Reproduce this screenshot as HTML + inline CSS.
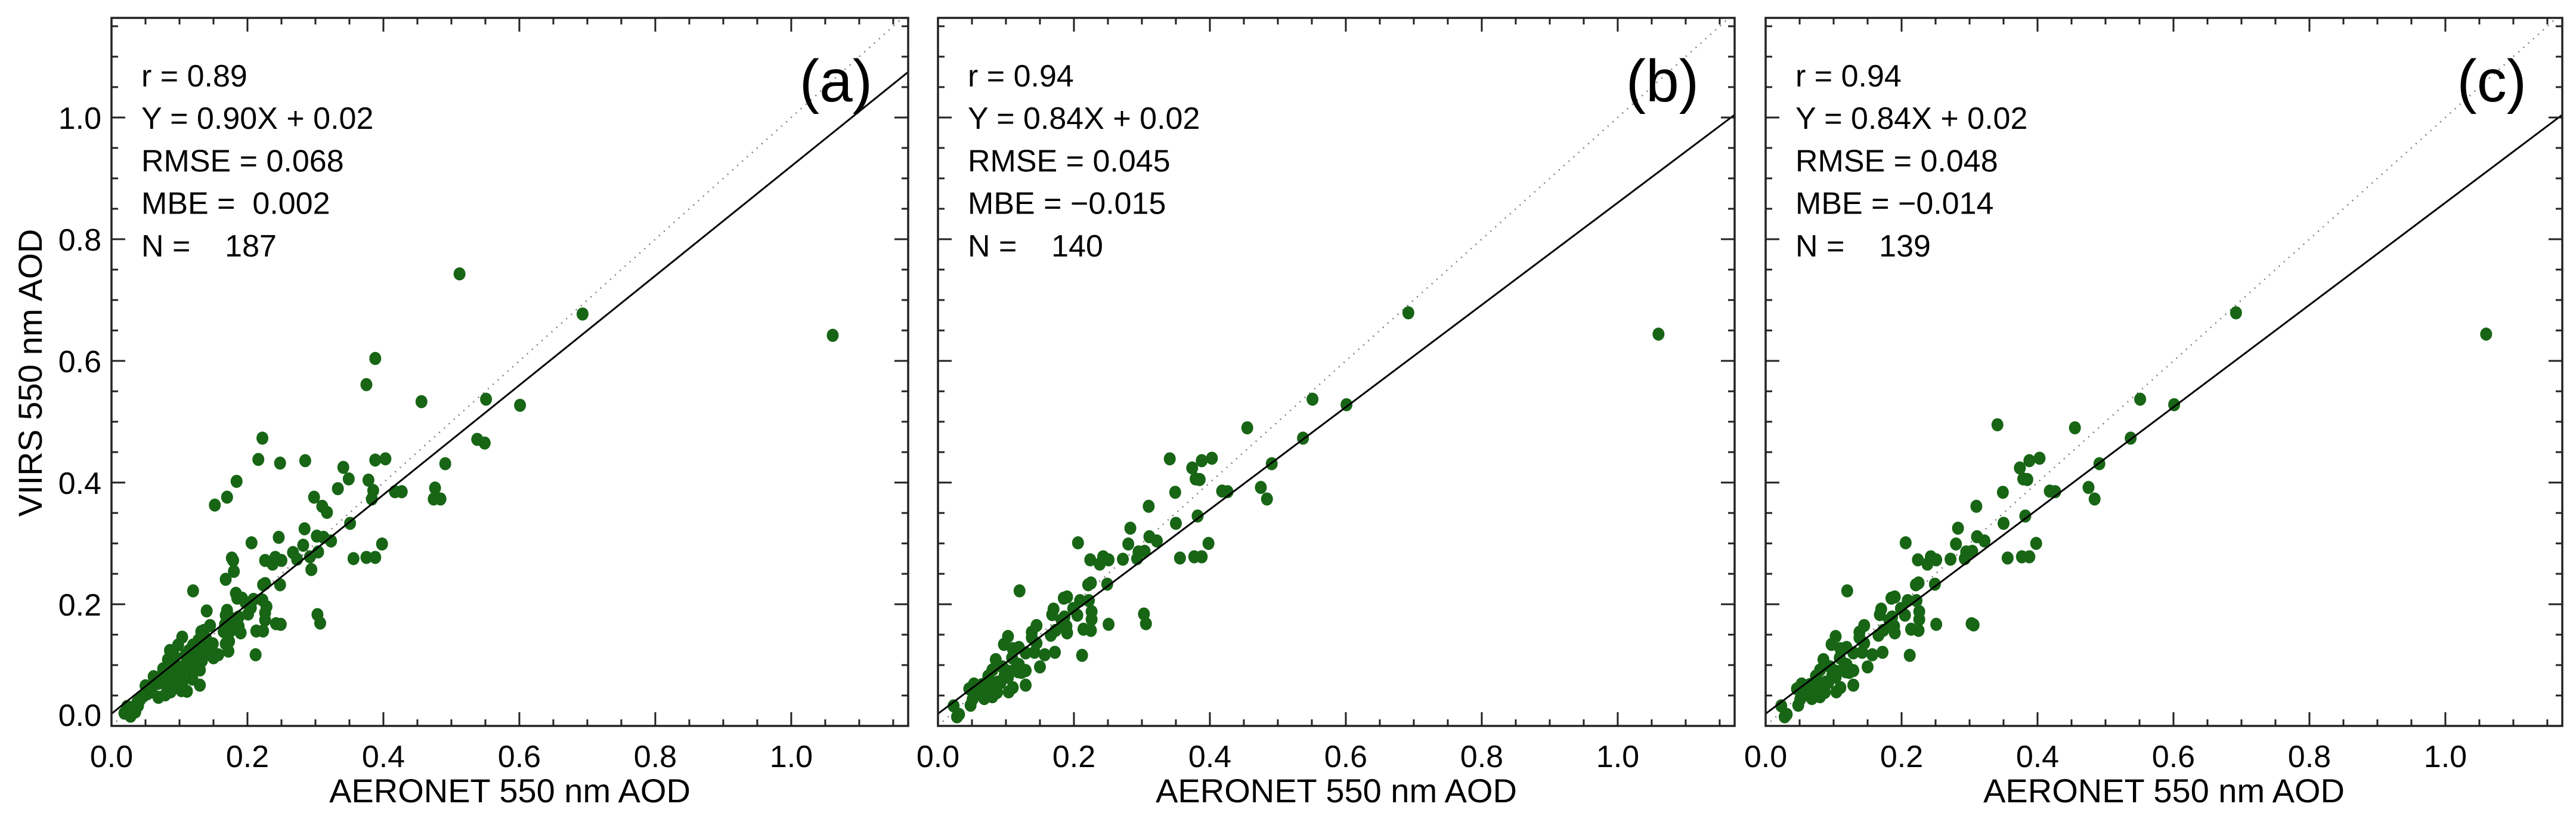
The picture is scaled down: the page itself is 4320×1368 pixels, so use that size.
<!DOCTYPE html>
<html><head><meta charset="utf-8">
<style>
html,body{margin:0;padding:0;background:#fff;}
svg{display:block;font-family:"Liberation Sans",Arial,sans-serif;}
</style></head>
<body>
<svg id="chart" width="4320" height="1368" viewBox="0 0 4320 1368" xmlns="http://www.w3.org/2000/svg"></svg>
<script>
// ---- data ----
const panelLabels = ["(a)", "(b)", "(c)"];
const statR = ["0.89", "0.94", "0.94"];
const statEq = ["Y = 0.90X + 0.02", "Y = 0.84X + 0.02", "Y = 0.84X + 0.02"];
const statRMSE = ["0.068", "0.045", "0.048"];
const statMBE = [" 0.002", "\u22120.015", "\u22120.014"];
const statN = ["187", "140", "139"];
const fitSlope = [0.90, 0.84, 0.84];
const fitIntercept = [0.02, 0.02, 0.02];
const xTickLabels = ["0.0", "0.2", "0.4", "0.6", "0.8", "1.0"];
const yTickLabels = ["0.0", "0.2", "0.4", "0.6", "0.8", "1.0"];

const aX = [.512,.693,1.061,.388,.375,.456,.551,.601,.538,.549,.491,.222,.216,.248,.285,.388,.403,.341,.349,.378,.385,.333,.417,.427,.476,.474,.484,.383,.184,.170,.152,.298,.310,.317,.351,.284,.246,.312,.302,.323,.206,.398,.282,.267,.304,.292,.273,.356,.375,.388,.241,.226,.250,.237,.177,.179,.180,.168,.294,.226,.223,.248,.120,.183,.185,.192,.197,.209,.222,.228,.205,.201,.226,.226,.303,.307,.242,.249,.140,.170,.168,.187,.179,.167,.187,.190,.213,.223,.145,.132,.136,.165,.175,.212,.128,.139,.149,.146,.104,.098,.120,.131,.114,.109,.086,.093,.168,.173,.172,.157,.150,.143,.124,.122,.130,.130,.103,.111,.083,.076,.088,.098,.109,.103,.088,.072,.062,.069,.080,.091,.087,.079,.069,.057,.050,.053,.047,.042,.039,.029,.023,.019,.028,.035,.038,.059,.096,.104,.118,.119,.113,.123,.133];
const aY = [.743,.677,.642,.604,.561,.533,.537,.527,.471,.465,.431,.473,.438,.432,.436,.437,.439,.425,.406,.404,.387,.390,.385,.385,.391,.373,.373,.373,.402,.376,.363,.376,.361,.351,.333,.324,.310,.310,.312,.304,.301,.299,.297,.285,.286,.278,.274,.275,.277,.277,.277,.272,.272,.266,.276,.272,.254,.241,.257,.234,.232,.232,.222,.218,.210,.210,.203,.208,.207,.196,.194,.184,.186,.174,.183,.169,.168,.167,.189,.190,.182,.179,.176,.167,.164,.153,.156,.156,.165,.155,.157,.155,.156,.117,.141,.144,.135,.131,.146,.133,.133,.128,.124,.117,.124,.114,.135,.139,.123,.117,.112,.120,.107,.095,.092,.067,.058,.057,.109,.094,.094,.097,.102,.086,.083,.081,.081,.070,.068,.075,.056,.051,.047,.064,.066,.053,.049,.043,.033,.030,.032,.021,.016,.023,.039,.056,.066,.071,.085,.077,.090,.116,.107];

const bX = [.692,1.060,.551,.601,.455,.537,.341,.388,.403,.374,.379,.385,.491,.475,.484,.418,.426,.349,.310,.382,.350,.283,.311,.322,.280,.398,.206,.295,.304,.293,.272,.356,.377,.388,.224,.243,.251,.238,.221,.225,.249,.120,.185,.190,.209,.222,.199,.205,.170,.168,.226,.226,.186,.182,.303,.306,.251,.214,.225,.145,.189,.190,.173,.166,.138,.138,.145,.103,.097,.110,.119,.129,.142,.157,.172,.212,.085,.109,.119,.095,.103,.150,.129,.118,.080,.074,.088,.103,.110,.129,.104,.087,.080,.068,.065,.053,.046,.062,.073,.051,.048,.023,.028,.031,.057,.068,.077,.092,.098,.116,.123];
const bY = [.679,.644,.537,.528,.490,.473,.439,.436,.440,.424,.406,.405,.431,.392,.373,.386,.385,.384,.361,.345,.333,.325,.311,.304,.299,.300,.301,.286,.287,.275,.274,.276,.278,.278,.273,.278,.273,.266,.232,.235,.233,.222,.210,.212,.206,.206,.193,.182,.192,.183,.188,.175,.179,.174,.184,.168,.167,.159,.157,.165,.164,.153,.157,.149,.154,.145,.136,.147,.134,.127,.129,.120,.121,.117,.121,.116,.109,.112,.101,.097,.090,.097,.091,.089,.092,.082,.072,.080,.063,.067,.056,.055,.048,.045,.068,.069,.061,.058,.068,.044,.034,.033,.015,.019,.056,.054,.059,.071,.083,.102,.088];

const cX = [.692,1.060,.551,.601,.455,.537,.341,.388,.403,.374,.379,.385,.491,.475,.484,.418,.426,.349,.310,.382,.350,.283,.311,.322,.280,.398,.206,.295,.304,.293,.272,.356,.377,.388,.224,.243,.251,.238,.221,.225,.249,.120,.185,.190,.209,.222,.199,.205,.170,.168,.226,.226,.186,.182,.303,.306,.251,.214,.225,.145,.189,.190,.173,.166,.138,.138,.145,.103,.097,.110,.119,.129,.142,.157,.172,.212,.085,.109,.119,.095,.103,.150,.129,.118,.080,.074,.088,.103,.110,.129,.104,.087,.080,.068,.065,.053,.046,.062,.073,.051,.048,.023,.028,.031,.057,.068,.077,.092,.098,.116,.123];
const cY = [.679,.644,.537,.528,.490,.473,.495,.436,.440,.424,.406,.405,.431,.392,.373,.386,.385,.384,.361,.345,.333,.325,.311,.304,.299,.300,.301,.286,.287,.275,.274,.276,.278,.278,.273,.278,.273,.266,.232,.235,.233,.222,.210,.212,.206,.206,.193,.182,.192,.183,.188,.175,.179,.174,.168,.166,.167,.159,.157,.165,.164,.153,.157,.149,.154,.145,.136,.147,.134,.127,.129,.120,.121,.117,.121,.116,.109,.112,.101,.097,.090,.097,.091,.089,.092,.082,.072,.080,.063,.067,.056,.055,.048,.045,.068,.069,.061,.058,.068,.044,.034,.033,.015,.019,.056,.054,.059,.071,.083,.102,.088];

const seriesX = [aX, bX, cX];
const seriesY = [aY, bY, cY];

// ---- layout ----
const NS = "http://www.w3.org/2000/svg";
const svg = document.getElementById("chart");
const panelLeft = [187, 1573, 2961];
const W = 1336, TOP = 30, BOTTOM = 1217;
const XMAX = 1.172, YMAX = (BOTTOM - TOP) / 1020;
function mk(tag, attrs, parent) {
  const e = document.createElementNS(NS, tag);
  for (const k in attrs) e.setAttribute(k, attrs[k]);
  (parent || svg).appendChild(e);
  return e;
}
const ids = ["a", "b", "c"];
for (let p = 0; p < 3; p++) {
  const L = panelLeft[p], R = L + W;
  const sx = v => L + v / XMAX * W;
  const sy = v => BOTTOM - v / YMAX * (BOTTOM - TOP);
  const g = mk("g", {});
  
  
  // clip
  const cp = mk("clipPath", {id: "clip" + p}, g);
  mk("rect", {x: L, y: TOP, width: W, height: BOTTOM - TOP}, cp);
  // 1:1 line
  const one = mk("line", {x1: sx(0), y1: sy(0), x2: sx(XMAX), y2: sy(XMAX), stroke: "#777", "stroke-width": 2.5, "stroke-dasharray": "2 9", "clip-path": "url(#clip" + p + ")"}, g);
  
  
  // points
  const pts = mk("g", {fill: "#176515"}, g);
  
  
  const xs = seriesX[p], ys = seriesY[p];
  for (let i = 0; i < xs.length; i++) {
    const c = mk("ellipse", {cx: sx(xs[i]), cy: sy(ys[i]), rx: 10, ry: 11}, pts);
    
    
  }
  // fit line
  const fit = mk("line", {x1: sx(0), y1: sy(fitIntercept[p]), x2: sx(XMAX), y2: sy(fitIntercept[p] + fitSlope[p] * XMAX), stroke: "#000", "stroke-width": 3, "clip-path": "url(#clip" + p + ")"}, g);
  
  
  // frame
  const fr = mk("rect", {x: L, y: TOP, width: W, height: BOTTOM - TOP, fill: "none", stroke: "#222", "stroke-width": 3.5}, g);
  
  
  // ticks
  let d = "";
  for (let k = 0; k * 0.05 <= XMAX + 1e-9; k++) {
    const x = sx(k * 0.05), len = (k % 4 === 0) ? 23 : 11;
    d += `M${x} ${BOTTOM}v${-len}M${x} ${TOP}v${len}`;
  }
  for (let k = 0; k * 0.05 <= YMAX + 1e-9; k++) {
    const y = sy(k * 0.05), len = (k % 4 === 0) ? 23 : 11;
    d += `M${L} ${y}h${len}M${R} ${y}h${-len}`;
  }
  const tk = mk("path", {d: d, stroke: "#222", "stroke-width": 3, fill: "none"}, g);
  
  
  // x tick labels
  for (let i = 0; i < xTickLabels.length; i++) {
    const t = mk("text", {x: sx(i * 0.2), y: 1286, "font-size": 52, "text-anchor": "middle"}, g);
    t.textContent = xTickLabels[i];
    
    
  }
  // y tick labels (left panel only)
  if (p === 0) {
    for (let i = 0; i < yTickLabels.length; i++) {
      const yy = sy(i * 0.2) + 19 - (i === 0 ? 19 : 0);
      const t = mk("text", {x: 170, y: yy, "font-size": 52, "text-anchor": "end"}, g);
      t.textContent = yTickLabels[i];
      
      
    }
    const yt = mk("text", {x: 0, y: 0, "font-size": 56, "text-anchor": "middle", transform: "translate(70 625) rotate(-90)"}, g);
    yt.textContent = "VIIRS 550 nm AOD";
    
    
  }
  const xt = mk("text", {x: L + W / 2, y: 1345, "font-size": 56, "text-anchor": "middle"}, g);
  xt.textContent = "AERONET 550 nm AOD";
  
  
  // stats
  const lines = ["r = " + statR[p], statEq[p], "RMSE = " + statRMSE[p], "MBE = " + statMBE[p], "N =    " + statN[p]];
  for (let i = 0; i < lines.length; i++) {
    const t = mk("text", {x: L + 50, y: 145 + i * 71.2, "font-size": 52, "xml:space": "preserve", style: "white-space:pre"}, g);
    t.textContent = lines[i];
    
    
  }
  const pl = mk("text", {x: L + 1276, y: 170, "font-size": 100, "text-anchor": "end"}, g);
  pl.textContent = panelLabels[p];
  
  
}
</script>
</body></html>
